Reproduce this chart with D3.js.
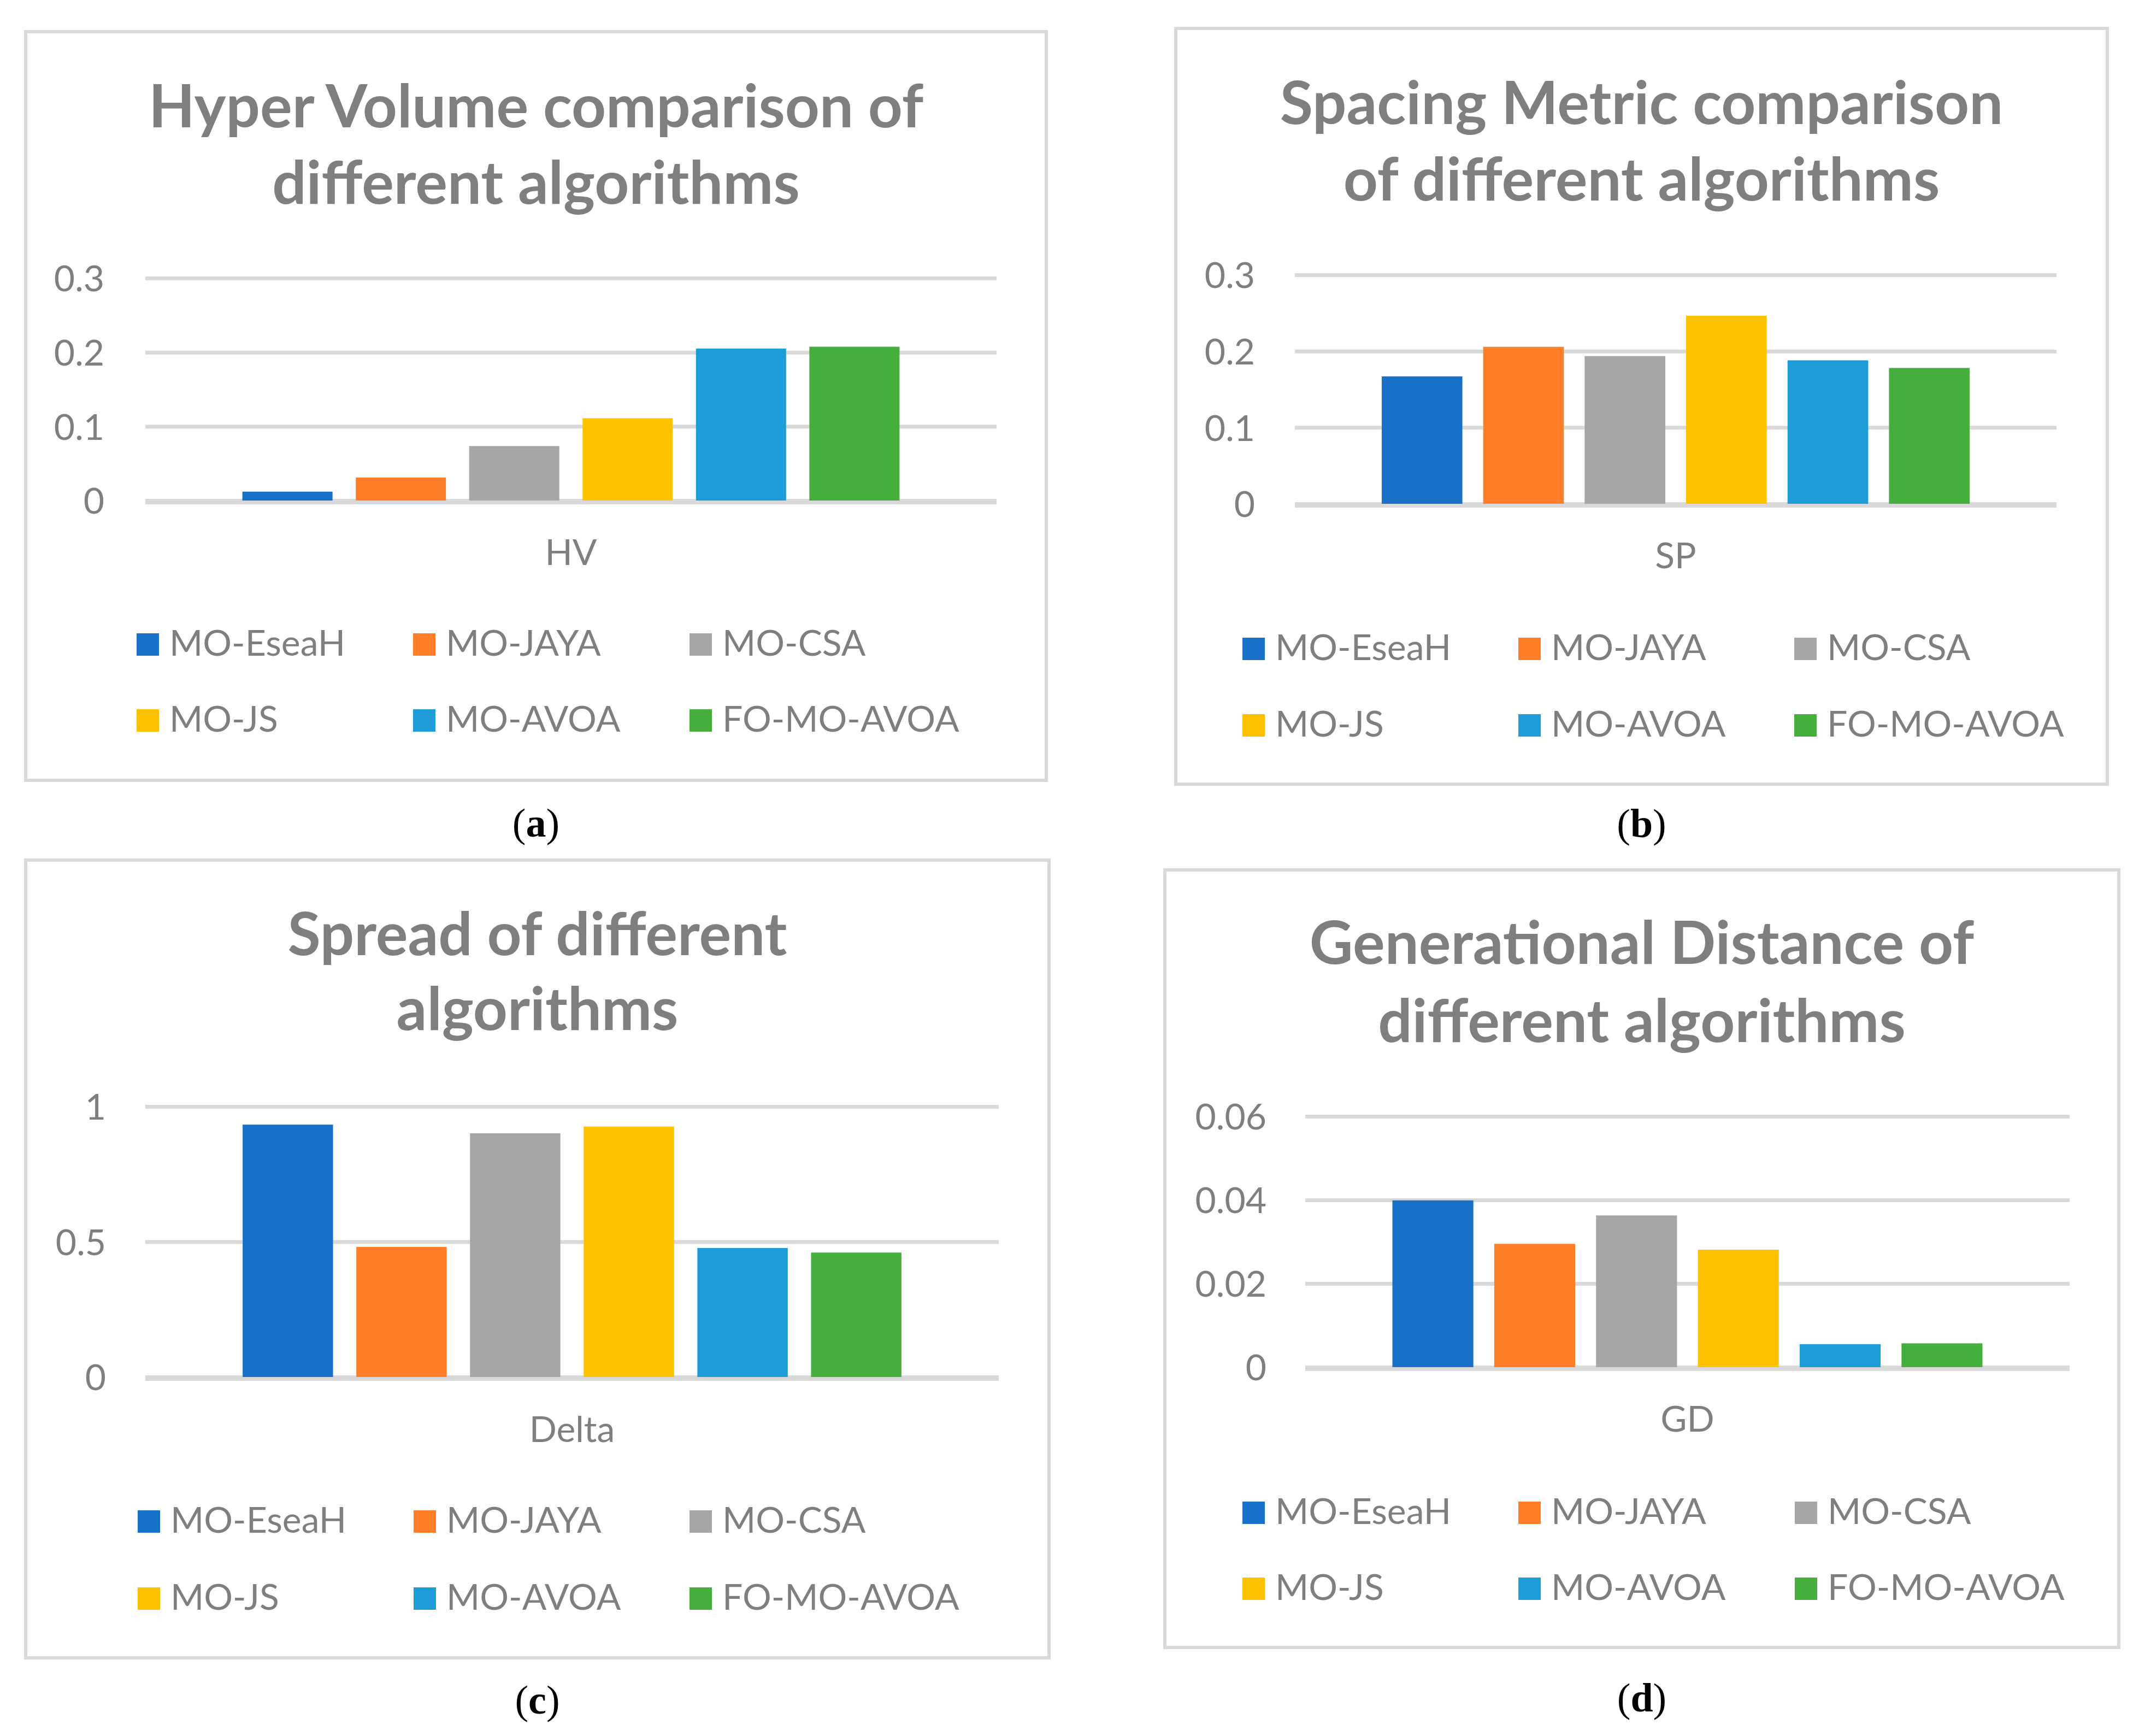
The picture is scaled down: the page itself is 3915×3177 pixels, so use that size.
<!DOCTYPE html>
<head>
	<meta charset="utf-8">
	<script src="https://d3js.org/d3.v7.min.js" charset="utf-8"></script>
	<style>
		body {margin: 0; background: #fff;}
		.title {font-family: Lato, sans-serif; font-weight: bold; fill: #7f7f7f;}
		.lab {font-family: Lato, sans-serif; fill: #7f7f7f;}
		.cap {font-family: "Liberation Serif", serif; fill: #000;}
	</style>
</head>
<body>
	<script>
		// series / categories
		var algorithms = ["MO-EseaH", "MO-JAYA", "MO-CSA", "MO-JS", "MO-AVOA", "FO-MO-AVOA"];
		var barColors = ["#1870c8", "#fe7f27", "#a6a6a6", "#ffc000", "#1e9cd8", "#45ae3c"];

		// values
		var hvValues = [0.012, 0.031, 0.0735, 0.111, 0.205, 0.2075];
		var spValues = [0.167, 0.2057, 0.1936, 0.2464, 0.188, 0.178];
		var deltaValues = [0.933, 0.481, 0.901, 0.926, 0.477, 0.460];
		var gdValues = [0.0399, 0.0295, 0.0363, 0.0281, 0.0055, 0.0057];

		// axis ticks
		var hvTicks = [0, 0.1, 0.2, 0.3];
		var spTicks = [0, 0.1, 0.2, 0.3];
		var deltaTicks = [0, 0.5, 1];
		var gdTicks = [0, 0.02, 0.04, 0.06];

		var panelTitles = [
			["Hyper Volume comparison of", "different algorithms"],
			["Spacing Metric comparison", "of different algorithms"],
			["Spread of different", "algorithms"],
			["Generational Distance of", "different algorithms"]
		];
		var metricNames = ["HV", "SP", "Delta", "GD"];
		var captionLetters = ["a", "b", "c", "d"];

		// layout of each panel (frame, plot area, text rows)
		var layout = [
			{box: [47, 58, 1915, 1428], plot: [266, 509, 1824, 916], titleY: [233, 373], catY: 1034,
			 legX: [250, 756, 1262], legY: [1200, 1339], capY: 1531, tickGap: 75},
			{box: [2152, 52, 3857, 1435], plot: [2370, 503, 3764, 922], titleY: [227, 367], catY: 1040,
			 legX: [2274, 2779, 3284], legY: [1208, 1348], capY: 1532, tickGap: 73},
			{box: [47, 1574, 1920, 3034], plot: [266, 2025, 1828, 2520], titleY: [1748, 1885], catY: 2639,
			 legX: [252, 757, 1262], legY: [2805, 2946], capY: 3136, tickGap: 72},
			{box: [2132, 1592, 3878, 3015], plot: [2389, 2043, 3788, 2502], titleY: [1764, 1907], catY: 2620,
			 legX: [2274, 2779, 3285], legY: [2789, 2928], capY: 3132, tickGap: 71}
		];
		var allValues = [hvValues, spValues, deltaValues, gdValues];
		var allTicks = [hvTicks, spTicks, deltaTicks, gdTicks];

		var W = 3915, H = 3177,
			titleSize = 110,
			labelSize = 66,
			gridColor = "#d9d9d9";

		var svg = d3.select("body").append("svg")
			.attr("width", W)
			.attr("height", H);

		svg.append("rect").attr("width", W).attr("height", H).attr("fill", "#fff");

		layout.forEach(function(L, p) {
			var g = svg.append("g");
			var values = allValues[p], ticks = allTicks[p];

			// frame
			g.append("rect")
				.attr("x", L.box[0]).attr("y", L.box[1])
				.attr("width", L.box[2] - L.box[0])
				.attr("height", L.box[3] - L.box[1])
				.attr("fill", "#fff")
				.attr("stroke", gridColor)
				.attr("stroke-width", 6);

			var cx = (L.box[0] + L.box[2]) / 2;

			// title
			g.selectAll(".title")
				.data(panelTitles[p])
				.enter()
				.append("text")
				.attr("class", "title")
				.attr("x", cx)
				.attr("y", function(d, i) {return L.titleY[i];})
				.attr("text-anchor", "middle")
				.attr("font-size", titleSize)
				.text(function(d) {return d;});

			var x = d3.scaleBand()
				.domain(algorithms)
				.range([L.plot[0], L.plot[2]])
				.paddingInner(0.205)
				.paddingOuter(0.856);
			var y = d3.scaleLinear()
				.domain([0, d3.max(ticks)])
				.range([L.plot[3], L.plot[1]]);

			// gridlines + tick labels
			var axis = g.append("g")
				.attr("transform", "translate(" + L.plot[0] + ",0)")
				.call(d3.axisLeft(y)
					.tickValues(ticks)
					.tickFormat(function(d) {return String(d);})
					.tickSize(-(L.plot[2] - L.plot[0]))
					.tickPadding(L.tickGap));
			axis.select(".domain").remove();
			axis.selectAll(".tick line")
				.attr("stroke", gridColor)
				.attr("stroke-width", 7);
			axis.selectAll(".tick text")
				.attr("class", "lab")
				.attr("font-size", labelSize)
				.attr("dy", "0.36em");

			// bars
			g.selectAll(".bar")
				.data(values)
				.enter()
				.append("rect")
				.attr("class", "bar")
				.attr("x", function(d, i) {return x(algorithms[i]);})
				.attr("y", function(d) {return y(d);})
				.attr("width", x.bandwidth())
				.attr("height", function(d) {return y(0) - y(d);})
				.attr("fill", function(d, i) {return barColors[i];});

			// zero line on top of the bars
			g.append("line")
				.attr("x1", L.plot[0]).attr("x2", L.plot[2])
				.attr("y1", y(0) + 3.5).attr("y2", y(0) + 3.5)
				.attr("stroke", gridColor)
				.attr("stroke-width", 7);

			// category label
			g.append("text")
				.attr("class", "lab")
				.attr("x", (L.plot[0] + L.plot[2]) / 2)
				.attr("y", L.catY)
				.attr("text-anchor", "middle")
				.attr("font-size", labelSize)
				.text(metricNames[p]);

			// legend, 3 columns x 2 rows
			var leg = g.selectAll(".leg")
				.data(algorithms)
				.enter()
				.append("g")
				.attr("class", "leg")
				.attr("transform", function(d, i) {
					return "translate(" + L.legX[i % 3] + "," + L.legY[Math.floor(i / 3)] + ")";
				});
			leg.append("rect")
				.attr("x", 0).attr("y", -41)
				.attr("width", 41).attr("height", 41)
				.attr("fill", function(d, i) {return barColors[i];});
			leg.append("text")
				.attr("class", "lab")
				.attr("x", 60)
				.attr("font-size", labelSize)
				.text(function(d) {return d;});

			// (a) (b) ... caption
			var cap = svg.append("text")
				.attr("class", "cap")
				.attr("x", cx)
				.attr("y", L.capY)
				.attr("text-anchor", "middle")
				.attr("font-size", 74);
			cap.append("tspan").text("(");
			cap.append("tspan").attr("font-weight", "bold").text(captionLetters[p]);
			cap.append("tspan").text(")");
		});
	</script>
</body>
</html>
